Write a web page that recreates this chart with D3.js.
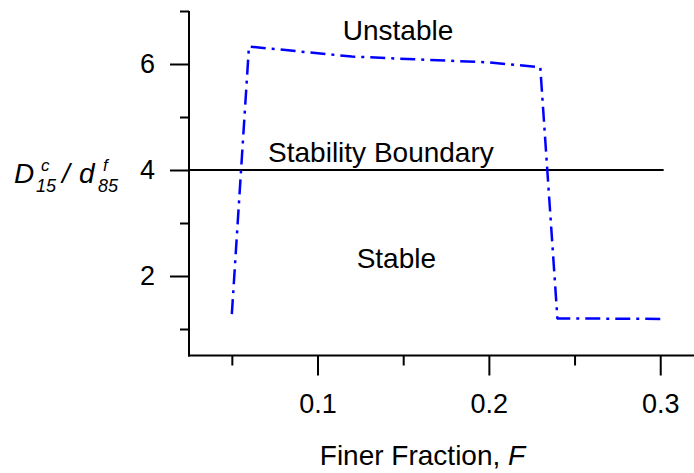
<!DOCTYPE html>
<html>
<head>
<meta charset="utf-8">
<script src="https://cdn.jsdelivr.net/npm/d3@7"></script>
<style>
  html, body { margin: 0; padding: 0; background: #fff; }
  svg { display: block; font-family: Arial, "Liberation Sans", sans-serif; }
</style>
</head>
<body>
<svg id="chart" width="694" height="473"></svg>
<script>
// Finer fraction F and the stability ratio D15c / d85f along the boundary curve
const finerFraction = [0.05, 0.06, 0.12, 0.20, 0.23, 0.24, 0.30];
const stabilityRatio = [1.28, 6.33, 6.14, 6.03, 5.94, 1.20, 1.19];

// Horizontal stability boundary
const boundaryValue = 4;
const boundaryEnd = 0.302;

// Axis ticks
const xMajorTicks = [0.1, 0.2, 0.3];
const xMinorTicks = [0.05, 0.15, 0.25];
const yMajorTicks = [2, 4, 6];
const yMinorTicks = [1, 3, 5, 7];

// Region annotations [text, F, ratio at baseline]
const regionLabels = [
  ["Unstable", 0.147, 6.45],
  ["Stability Boundary", 0.137, 4.16],
  ["Stable", 0.146, 2.16]
];

const svg = d3.select("#chart");

const x = d3.scaleLinear().domain([0.025, 0.32]).range([189, 694.5]);
const y = d3.scaleLinear().domain([0.5, 7]).range([355.5, 11]);

const axisColor = "#000";

// X axis: major ticks with labels, minor ticks without
const xMajor = svg.append("g")
  .attr("transform", `translate(0,${y.range()[0]})`)
  .call(d3.axisBottom(x).tickValues(xMajorTicks).tickSize(20).tickPadding(18)
    .tickFormat(d3.format(".1f")));
const xMinor = svg.append("g")
  .attr("transform", `translate(0,${y.range()[0]})`)
  .call(d3.axisBottom(x).tickValues(xMinorTicks).tickSize(10).tickFormat(""));

// Y axis
const yMajor = svg.append("g")
  .attr("transform", `translate(${x.range()[0]},0)`)
  .call(d3.axisLeft(y).tickValues(yMajorTicks).tickSize(19).tickPadding(15)
    .tickFormat(d3.format("d")));
const yMinor = svg.append("g")
  .attr("transform", `translate(${x.range()[0]},0)`)
  .call(d3.axisLeft(y).tickValues(yMinorTicks).tickSize(9).tickFormat(""));

[xMajor, xMinor, yMajor, yMinor].forEach(g => {
  g.select(".domain").remove();
  g.selectAll(".tick line").attr("stroke", axisColor).attr("stroke-width", 2);
  g.selectAll(".tick text")
    .attr("fill", "#000")
    .style("font-size", "27px")
    .style("font-family", "Arial, 'Liberation Sans', sans-serif");
});

// Axis lines
svg.append("line")
  .attr("x1", x.range()[0]).attr("x2", x.range()[0])
  .attr("y1", y.range()[1]).attr("y2", y.range()[0] + 1)
  .attr("stroke", axisColor).attr("stroke-width", 2);
svg.append("line")
  .attr("x1", x.range()[0] - 1).attr("x2", x.range()[1])
  .attr("y1", y.range()[0]).attr("y2", y.range()[0])
  .attr("stroke", axisColor).attr("stroke-width", 2);

// Stability boundary line
svg.append("line")
  .attr("x1", x.range()[0]).attr("x2", x(boundaryEnd))
  .attr("y1", y(boundaryValue)).attr("y2", y(boundaryValue))
  .attr("stroke", "#000").attr("stroke-width", 2);

// Boundary curve (dash-dot)
const curveData = finerFraction.map((f, i) => [f, stabilityRatio[i]]);
svg.append("path")
  .datum(curveData)
  .attr("fill", "none")
  .attr("stroke", "#0000ff")
  .attr("stroke-width", 2.5)
  .attr("stroke-dasharray", "15,6,3,6")
  .attr("stroke-linejoin", "round")
  .attr("d", d3.line().x(d => x(d[0])).y(d => y(d[1])));

// Region annotations
svg.selectAll("text.region")
  .data(regionLabels)
  .join("text")
  .attr("class", "region")
  .attr("x", d => x(d[1]))
  .attr("y", d => y(d[2]))
  .attr("text-anchor", "middle")
  .style("font-size", "28px")
  .attr("fill", "#000")
  .text(d => d[0]);

// X axis title
const xTitle = svg.append("text")
  .attr("x", 422.5)
  .attr("y", 465)
  .attr("text-anchor", "middle")
  .style("font-size", "28px")
  .attr("fill", "#000");
xTitle.append("tspan").text("Finer Fraction, ");
xTitle.append("tspan").style("font-style", "italic").text("F");

// Y axis title: D^c_15 / d^f_85 (superscripts stacked over subscripts)
const yTitle = svg.append("g")
  .attr("transform", "translate(14,183)")
  .style("font-style", "italic")
  .attr("fill", "#000");
const parts = [
  ["D", 0, 0, 28],
  ["c", 27, -12.5, 17],
  ["15", 22, 9, 18],
  ["/", 48, 0, 28],
  ["d", 65, 0, 28],
  ["f", 89, -12.5, 17],
  ["85", 84, 9, 18]
];
yTitle.selectAll("text")
  .data(parts)
  .join("text")
  .attr("x", d => d[1])
  .attr("y", d => d[2])
  .style("font-size", d => d[3] + "px")
  .text(d => d[0]);
</script>
</body>
</html>
